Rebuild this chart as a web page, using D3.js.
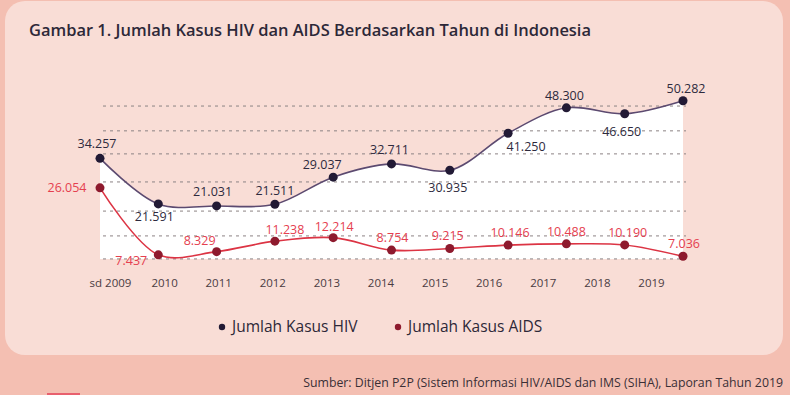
<!DOCTYPE html>
<html>
<head>
<meta charset="utf-8">
<script src="https://cdn.jsdelivr.net/npm/d3@7"></script>
<style>
  body { margin: 0; background: #f4bfb2; }
  svg { display: block; font-family: "Open Sans", sans-serif; }
</style>
</head>
<body>
<svg id="chart" width="790" height="395"></svg>
<script>
// data
const years = ['sd 2009', '2010', '2011', '2012', '2013', '2014', '2015', '2016', '2017', '2018', '2019'];
const hiv = [34257, 21591, 21031, 21511, 29037, 32711, 30935, 41250, 48300, 46650, 50282];
const aids = [26054, 7437, 8329, 11238, 12214, 8754, 9215, 10146, 10488, 10190, 7036];
const gridValues = [48800, 41900, 35500, 27700, 19600, 12700, 6300];

// label placement relative to the dot
const hivOff = [[-3,-15],[-4,13],[-4,-14],[0,-14],[-11,-13],[-2,-14],[-2,17],[18,13],[-2,-12],[-3,18],[3,-12]];
const aidsOff = [[-33,0],[-27,6],[-17,-11],[10,-12],[1,-11],[1,-12],[-2,-13],[2,-12],[0,-12],[3,-12],[1,-13]];

const width = 790, height = 395;
const svg = d3.select('#chart');

// card
svg.append('rect')
  .attr('x', 5).attr('y', 1)
  .attr('width', 778).attr('height', 354)
  .attr('rx', 20)
  .attr('fill', '#f9ddd6');

svg.append('rect')
  .attr('x', 47).attr('y', 393)
  .attr('width', 33).attr('height', 2)
  .attr('fill', '#e8606e');

svg.append('text')
  .attr('x', 29).attr('y', 36)
  .attr('font-size', 16)
  .attr('font-weight', 600)
  .attr('fill', '#2d2838')
  .attr('textLength', 562)
  .attr('lengthAdjust', 'spacingAndGlyphs')
  .text('Gambar 1. Jumlah Kasus HIV dan AIDS Berdasarkan Tahun di Indonesia');

// scales
const x = d3.scalePoint().domain(years).range([100, 683]);
const xLab = d3.scalePoint().domain(years).range([110, 651]);
const y = d3.scaleLinear().domain([0, 50282]).range([281.6, 100.7]);

const idx = d3.range(years.length);
const curve = d3.curveCatmullRom.alpha(0.5);

// white area under HIV line
svg.append('path')
  .datum(idx)
  .attr('fill', '#ffffff')
  .attr('d', d3.area()
    .x(i => x(years[i]))
    .y0(y(d3.min(gridValues)))
    .y1(i => y(hiv[i]))
    .curve(curve));

// dashed grid
svg.append('g')
  .selectAll('line')
  .data(gridValues)
  .join('line')
  .attr('x1', 103).attr('x2', 686)
  .attr('y1', d => y(d)).attr('y2', d => y(d))
  .attr('stroke', '#8c8384')
  .attr('stroke-width', 1)
  .attr('stroke-dasharray', '3,4');

// x axis
const xAxis = svg.append('g')
  .attr('transform', 'translate(0,275)')
  .call(d3.axisBottom(xLab).tickSize(0).tickPadding(0));
xAxis.select('.domain').remove();
xAxis.selectAll('text')
  .attr('font-size', 11.5)
  .attr('font-family', '"Open Sans", sans-serif')
  .attr('fill', '#4a3b42')
  .attr('dy', '1em');

function series(vals, off, lineColor, dotColor, labelColor) {
  svg.append('path')
    .datum(idx)
    .attr('fill', 'none')
    .attr('stroke', lineColor)
    .attr('stroke-width', 1.6)
    .attr('d', d3.line()
      .x(i => x(years[i]))
      .y(i => y(vals[i]))
      .curve(curve));

  svg.append('g')
    .selectAll('circle')
    .data(idx)
    .join('circle')
    .attr('cx', i => x(years[i]))
    .attr('cy', i => y(vals[i]))
    .attr('r', 4.5)
    .attr('fill', dotColor);

  svg.append('g')
    .selectAll('text')
    .data(idx)
    .join('text')
    .attr('x', i => x(years[i]) + off[i][0])
    .attr('y', i => y(vals[i]) + off[i][1])
    .attr('text-anchor', 'middle')
    .attr('dy', '0.35em')
    .attr('font-size', 12.5)
    .attr('fill', labelColor)
    .text(i => d3.format(',')(vals[i]).replace(/,/g, '.'));
}

series(hiv, hivOff, '#5c4a70', '#221a35', '#2e2a3d');
series(aids, aidsOff, '#dc3444', '#8e1a2e', '#e5404f');

// legend
const legend = [
  {name: 'Jumlah Kasus HIV', color: '#221a35', x: 222},
  {name: 'Jumlah Kasus AIDS', color: '#8e1a2e', x: 398}
];
const lg = svg.append('g').selectAll('g').data(legend).join('g')
  .attr('transform', d => 'translate(' + d.x + ',327)');
lg.append('circle').attr('r', 3.2).attr('fill', d => d.color);
lg.append('text')
  .attr('x', 10).attr('dy', '0.35em')
  .attr('font-size', 15.5)
  .attr('fill', '#2d2838')
  .text(d => d.name);

svg.append('text')
  .attr('x', 783).attr('y', 387)
  .attr('text-anchor', 'end')
  .attr('font-size', 12.3)
  .attr('fill', '#3a2f36')
  .text('Sumber: Ditjen P2P (Sistem Informasi HIV/AIDS dan IMS (SIHA), Laporan Tahun 2019');
</script>
</body>
</html>
